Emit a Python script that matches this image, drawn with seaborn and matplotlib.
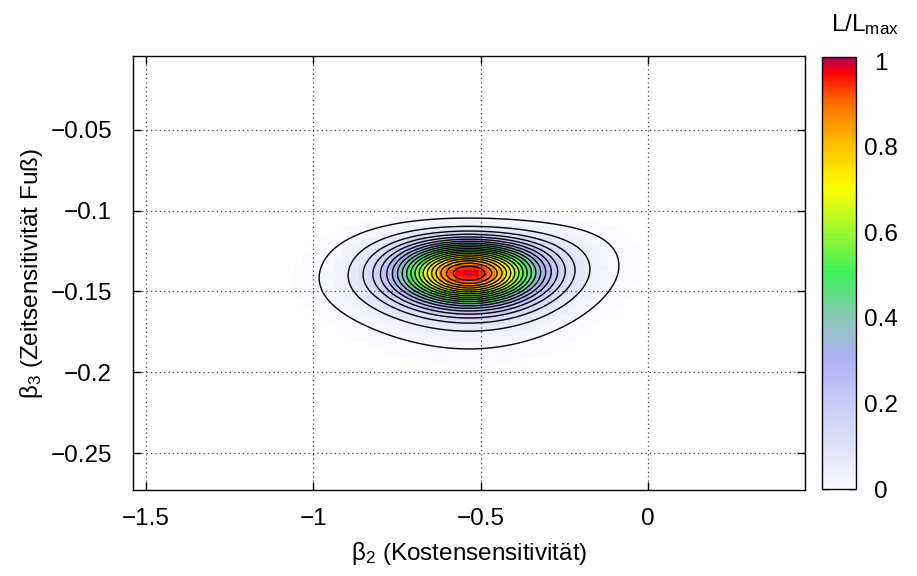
import numpy as np
import matplotlib
matplotlib.use("Agg")
import matplotlib.pyplot as plt
from matplotlib.colors import Normalize
import seaborn as sns

sns.set_style("ticks")
plt.rcParams["font.family"] = ["Liberation Sans", "DejaVu Sans"]
plt.rcParams["mathtext.fontset"] = "custom"
plt.rcParams["mathtext.rm"] = "Liberation Sans"
plt.rcParams["mathtext.it"] = "Liberation Sans:italic"
plt.rcParams["axes.unicode_minus"] = True
for key in ["text.color", "axes.labelcolor", "xtick.color", "ytick.color", "axes.edgecolor"]:
    plt.rcParams[key] = "black"

# likelihood surface
best_beta2 = -0.535          # maximum position
best_beta3 = -0.1387
sigma_beta2 = 0.1475         # widths of the peak
sigma_beta3 = 0.0136
skew_up = 0.030              # top side is squeezed
skew_down = 0.0107           # bottom side is stretched
tilt_sq = 0.00010            # outer contour: right end higher
tilt_cub = 0.000135

contour_levels = [0.01] + [round(0.05 * k, 2) for k in range(1, 20)]

x_ticks = [-1.5, -1.0, -0.5, 0.0]
x_ticklabels = ["\u22121.5", "\u22121", "\u22120.5", "0"]
y_ticks = [-0.05, -0.10, -0.15, -0.20, -0.25]
y_ticklabels = ["\u22120.05", "\u22120.1", "\u22120.15", "\u22120.2", "\u22120.25"]
cb_ticks = [0, 0.2, 0.4, 0.6, 0.8, 1.0]
cb_ticklabels = ["0", "0.2", "0.4", "0.6", "0.8", "1"]

x_range = (-1.539, 0.469)
y_range = (-0.2729, -0.0042)

# palette stops (value, colour)
cmap_pos = [0.0, 0.05, 0.1, 0.2, 0.3, 0.4, 0.5, 0.6, 0.7, 0.8, 0.9, 0.965, 1.0]
cmap_col = ["#fafaff", "#ececfc", "#e0e0fa", "#cbcbf8", "#b0b0f4", "#86c8b4", "#3ef05a",
            "#a0f830", "#ffff00", "#ffbe00", "#ff6a00", "#ff0000", "#b00058"]

FS = 17.5


def likelihood(b2, b3):
    u = (b2 - best_beta2) / sigma_beta2
    dy = b3 - best_beta3 - (tilt_sq * u ** 2 + tilt_cub * u ** 3)
    v = np.clip(dy / sigma_beta3, -6.5, 6.5)
    beta = np.where(v > 0, skew_up, skew_down)
    sig = sigma_beta3 * np.exp(-np.sign(v) * beta * v ** 2)
    w = dy / sig
    return np.exp(-0.5 * (u ** 2 + w ** 2))


cmap = matplotlib.colors.LinearSegmentedColormap.from_list(
    "lmax", list(zip(cmap_pos, cmap_col)))
norm = Normalize(0, 1.01)

fig = plt.figure(figsize=(9.17, 5.76), dpi=100)
ax = fig.add_axes([0.145, 0.1493, 0.733, 0.7535])
cax = fig.add_axes([0.8964, 0.151, 0.0371, 0.75])

# coarse sampling for the colour map (pm3d style: cell = mean of its corners)
xe = np.arange(-1.2, 0.15, 0.024)
ye = np.arange(-0.215, -0.07, 0.0034)
XE, YE = np.meshgrid(xe, ye)
ZE = likelihood(XE, YE)
Z = 0.25 * (ZE[:-1, :-1] + ZE[1:, :-1] + ZE[:-1, 1:] + ZE[1:, 1:])
Z = np.ma.masked_less(Z, 0.002)
ax.pcolormesh(xe, ye, Z, cmap=cmap, norm=norm, shading="flat", zorder=1)

xf = np.linspace(-1.2, 0.15, 500)
yf = np.linspace(-0.215, -0.07, 400)
XF, YF = np.meshgrid(xf, yf)
ax.contour(XF, YF, likelihood(XF, YF), levels=contour_levels,
           colors="black", linewidths=1.0, zorder=3)

ax.set_xlim(*x_range)
ax.set_ylim(*y_range)
ax.set_xticks(x_ticks)
ax.set_xticklabels(x_ticklabels)
ax.set_yticks(y_ticks)
ax.set_yticklabels(y_ticklabels)
ax.grid(True, color="#444444", linestyle=(0, (1, 2.5)), linewidth=0.9, zorder=2)
ax.set_axisbelow(False)
ax.tick_params(direction="in", length=6, width=1, top=True, right=True,
               labelsize=FS, colors="black")
ax.tick_params(axis="x", pad=13)
ax.tick_params(axis="y", pad=15)
for s in ax.spines.values():
    s.set_linewidth(1.0)
    s.set_color("black")
ax.set_xlabel("\u03b2$_2$ (Kostensensitivit\u00e4t)", fontsize=FS, labelpad=7)
ax.set_ylabel("\u03b2$_3$ (Zeitsensitivit\u00e4t Fu\u00df)", fontsize=FS, labelpad=4)

sm = matplotlib.cm.ScalarMappable(norm=norm, cmap=cmap)
cb = fig.colorbar(sm, cax=cax)
cb.set_ticks(cb_ticks)
cb.set_ticklabels(cb_ticklabels)
cax.tick_params(direction="in", length=5, width=1, left=True, right=True,
                labelsize=FS, pad=18, colors="black")
for lab in cax.get_yticklabels():
    lab.set_horizontalalignment("center")
cb.outline.set_linewidth(1.0)
cb.outline.set_edgecolor("black")
fig.text(0.943, 0.957, "L/L$_{\\mathrm{max}}$", fontsize=FS, ha="center", va="center")

fig.savefig("out.png", dpi=100)
